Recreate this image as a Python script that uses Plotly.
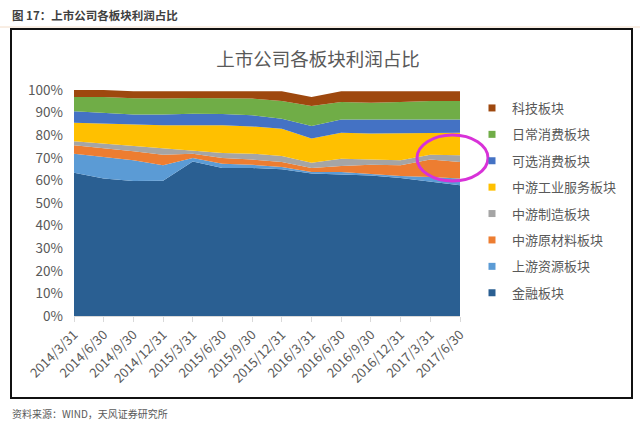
import plotly.graph_objects as go

dates = ["2014/3/31", "2014/6/30", "2014/9/30", "2014/12/31", "2015/3/31", "2015/6/30",
         "2015/9/30", "2015/12/31", "2016/3/31", "2016/6/30", "2016/9/30", "2016/12/31",
         "2017/3/31", "2017/6/30"]

finance    = [63.4, 60.8, 59.7, 59.9, 68.4, 65.5, 65.5, 64.9, 63.0, 62.7, 62.2, 61.1, 59.6, 57.8]
upstream   = [8.4, 9.6, 9.2, 6.8, 1.5, 1.9, 1.4, 1.0, 0.7, 1.0, 0.6, 0.8, 1.9, 3.0]
materials  = [3.7, 3.9, 4.0, 4.7, 1.9, 2.5, 2.3, 2.2, 1.8, 2.7, 4.1, 4.8, 7.8, 7.3]
manufact   = [1.8, 2.0, 2.2, 2.6, 1.5, 2.2, 2.6, 2.7, 2.3, 3.2, 2.3, 2.2, 2.1, 3.0]
industrial = [8.2, 8.8, 9.6, 10.4, 11.1, 12.3, 12.1, 12.1, 10.7, 11.5, 11.5, 11.8, 9.6, 10.0]
optional   = [5.1, 4.9, 4.5, 4.8, 5.1, 5.0, 4.9, 4.4, 5.6, 5.8, 6.2, 6.2, 5.9, 5.8]
staples    = [6.3, 6.9, 7.2, 7.0, 7.0, 6.8, 7.4, 7.8, 8.8, 7.8, 7.5, 7.8, 8.2, 8.2]
tech       = [3.1, 3.1, 3.0, 3.1, 3.0, 3.3, 3.2, 4.4, 4.0, 4.8, 5.1, 4.8, 4.4, 4.4]

series = [
    ("金融板块", finance, "#2A5F92"),
    ("上游资源板块", upstream, "#5B9BD5"),
    ("中游原材料板块", materials, "#ED7D31"),
    ("中游制造板块", manufact, "#A5A5A5"),
    ("中游工业服务板块", industrial, "#FFC000"),
    ("可选消费板块", optional, "#4472C4"),
    ("日常消费板块", staples, "#70AD47"),
    ("科技板块", tech, "#9E480E"),
]

FONT = "Noto Sans CJK SC, Microsoft YaHei, sans-serif"
fig = go.Figure()
for name, vals, col in series:
    fig.add_trace(go.Scatter(x=dates, y=vals, name=name, stackgroup="s",
                             mode="lines", line=dict(width=0, color=col),
                             fillcolor=col, showlegend=False, hoverinfo="x+y+name"))
for name, vals, col in reversed(series):
    fig.add_trace(go.Scatter(x=[None], y=[None], name=name, mode="markers",
                             marker=dict(symbol="square", size=7, color=col),
                             showlegend=True, legendgroup=name))

L, R, T, B = 74, 460, 90, 316
W, H = 640, 424
def px(x):
    return (x - L) / (R - L)
def py(y):
    return (B - y) / (B - T)

fig.update_layout(
    width=W, height=H,
    paper_bgcolor="white", plot_bgcolor="white",
    margin=dict(l=L, r=W - R, t=T, b=H - B, autoexpand=False),
    font=dict(family=FONT, color="#595959", size=12),
    title=dict(text="上市公司各板块利润占比", x=0.497, xanchor="center",
               y=1 - 60 / H, yanchor="middle",
               font=dict(size=18.5, color="#595959", family=FONT)),
    legend=dict(x=px(472), y=py(93), xanchor="left", yanchor="top",
                font=dict(size=13, color="#595959", family=FONT),
                tracegroupgap=6.5, itemwidth=30, bgcolor="rgba(0,0,0,0)"),
    xaxis=dict(type="category", range=[0, len(dates) - 1], tickangle=-45,
               automargin=False,
               showgrid=False, showline=True, linecolor="#D9D9D9", linewidth=1,
               ticks="outside", ticklen=5, tickcolor="#D9D9D9",
               tickfont=dict(size=13, color="#595959", family=FONT)),
    yaxis=dict(range=[0, 100], dtick=10, ticksuffix="%", showgrid=False,
               automargin=False, ticklabelstandoff=10,
               zeroline=False, showline=False,
               tickfont=dict(size=13.5, color="#595959", family=FONT)),
    showlegend=True,
)

fig.add_shape(type="rect", xref="paper", yref="paper",
              x0=px(11), x1=px(632), y0=py(398), y1=py(29),
              line=dict(color="#111111", width=2), fillcolor="rgba(0,0,0,0)", layer="below")
fig.add_shape(type="line", xref="paper", yref="paper",
              x0=px(0), x1=px(640), y0=py(27), y1=py(27),
              line=dict(color="#F2DCC8", width=1))
# magenta highlight ellipse drawn over the chart in the reference
fig.add_shape(type="circle", xref="paper", yref="paper",
              x0=px(417), x1=px(488), y0=py(181), y1=py(135),
              line=dict(color="#D832D8", width=3), fillcolor="rgba(0,0,0,0)", layer="above")
fig.add_annotation(text="<b>图 17：上市公司各板块利润占比</b>", xref="paper", yref="paper",
                   x=px(10), y=py(15), xanchor="left", yanchor="middle", showarrow=False,
                   font=dict(size=11.5, color="#404040", family=FONT))
fig.add_annotation(text="资料来源：WIND，天风证券研究所", xref="paper", yref="paper",
                   x=px(10), y=py(413), xanchor="left", yanchor="middle", showarrow=False,
                   font=dict(size=10, color="#595959", family=FONT))

fig.write_html("out.html", config={"displayModeBar": False},
               post_script="document.body.style.margin='0';document.body.style.overflow='hidden';")
